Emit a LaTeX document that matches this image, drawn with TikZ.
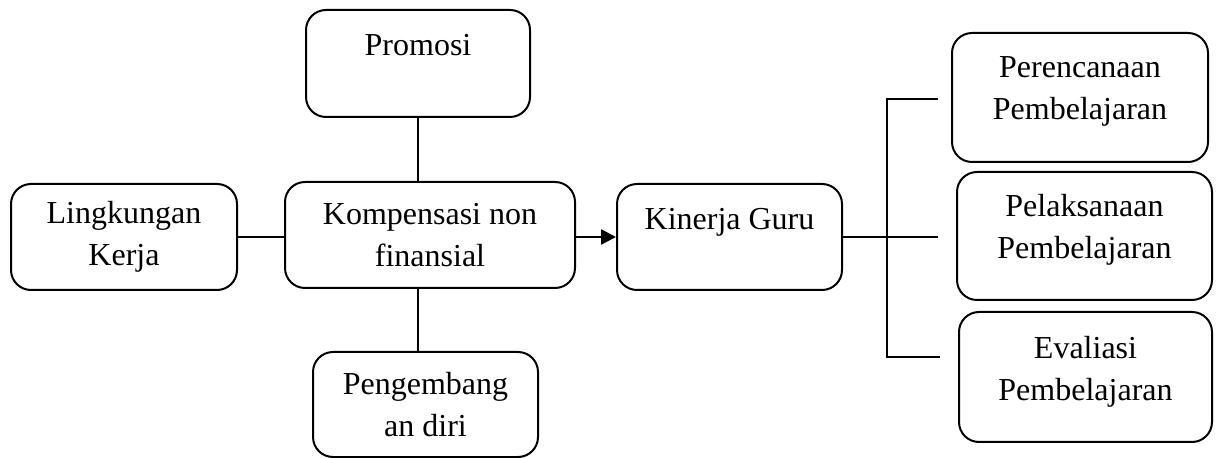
\documentclass[tikz,border=0pt]{standalone}
\usepackage{fontspec}
\setmainfont{Liberation Serif}
\usetikzlibrary{arrows.meta}

\begin{document}
\begin{tikzpicture}[x=0.5pt, y=-0.5pt,
    box/.style={draw, rectangle, rounded corners=10pt, line width=1pt, align=center,
      inner sep=0pt, font=\fontsize{16}{21}\selectfont},
    link/.style={line width=1pt}]
  \useasboundingbox (0,0) rectangle (1219,458);

  % left part
  \node[box, minimum width=112pt, minimum height=53.5pt, text depth=19pt] (promosi) at (418,63.5) {Promosi};
  \node[box, minimum width=113pt, minimum height=53pt] (lingkungan) at (124,237) {Lingkungan\\Kerja};
  \node[box, minimum width=145pt, minimum height=53pt] (kompensasi) at (430,235) {Kompensasi non\\finansial};
  \node[box, minimum width=112.5pt, minimum height=52.5pt] (pengembang) at (425.5,404.5) {Pengembang\\an diri};

  % middle
  \node[box, minimum width=112.5pt, minimum height=53pt, text depth=18pt] (kinerja) at (729.5,237) {Kinerja Guru};

  % right part
  \node[box, minimum width=128pt, minimum height=64.5pt, text depth=9pt] (perencanaan) at (1080,97.5) {Perencanaan\\Pembelajaran};
  \node[box, minimum width=127.5pt, minimum height=64pt, text depth=10pt] (pelaksanaan) at (1084.5,236) {Pelaksanaan\\Pembelajaran};
  \node[box, minimum width=126.5pt, minimum height=65pt, text depth=9pt] (evaliasi) at (1085.5,377) {Evaliasi\\Pembelajaran};

  \coordinate (fork) at (887,237);
  \coordinate (forktop) at (887,99);
  \coordinate (forkbot) at (887,357);
  \coordinate (endtop) at (938,99);
  \coordinate (endmid) at (938,237);
  \coordinate (endbot) at (940,357);

  \draw[link] (promosi.south) -- (promosi.south |- kompensasi.north);
  \draw[link] (promosi.south |- kompensasi.south) -- (promosi.south |- pengembang.north);
  \draw[link] (lingkungan.east) -- (lingkungan.east -| kompensasi.west);
  \draw[line width=1.3pt, -{Triangle[length=7.5pt, width=7.5pt]}] (kinerja.west -| kompensasi.east) -- (kinerja.west);
  \draw[link] (kinerja.east) -- (fork) -- (endmid);
  \draw[link] (endtop) -- (forktop) -- (forkbot) -- (endbot);
\end{tikzpicture}
\end{document}
